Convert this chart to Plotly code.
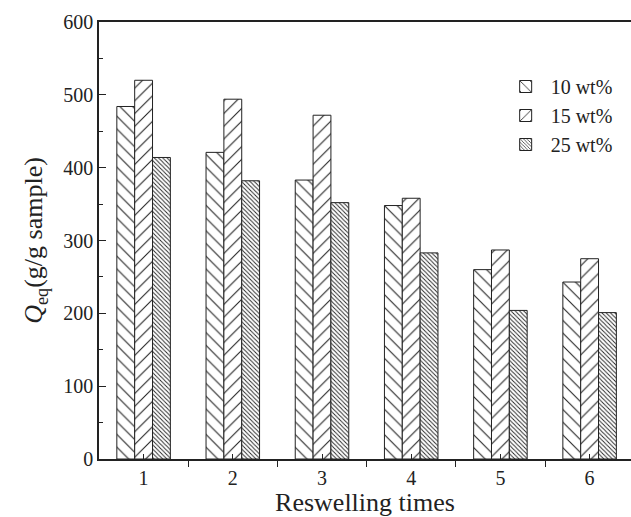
import plotly.graph_objects as go

categories = [1, 2, 3, 4, 5, 6]
series_names = ["10 wt%", "15 wt%", "25 wt%"]
q_10 = [484, 421, 383, 348, 260, 243]
q_15 = [520, 494, 472, 358, 287, 275]
q_25 = [414, 382, 352, 283, 204, 201]
y_ticks = [0, 100, 200, 300, 400, 500, 600]

series_values = [q_10, q_15, q_25]
pattern_styles = [
    dict(shape="\\", size=9, solidity=0.12),
    dict(shape="/", size=9, solidity=0.12),
    dict(shape="\\", size=3, solidity=0.3),
]

FONT = "Liberation Serif, Times New Roman, serif"
INK = "#222222"

fig = go.Figure()
for name, vals, pat in zip(series_names, series_values, pattern_styles):
    fig.add_trace(go.Bar(
        x=categories, y=vals, name=name,
        marker=dict(
            color="white",
            line=dict(color=INK, width=1),
            pattern=dict(fgcolor=INK, bgcolor="white", fillmode="replace", **pat),
        ),
    ))

fig.update_layout(
    width=631, height=517,
    margin=dict(l=99, r=0, t=22, b=58),
    paper_bgcolor="white", plot_bgcolor="white",
    barmode="group", bargap=0.4, bargroupgap=0,
    font=dict(family=FONT, color=INK, size=20),
    showlegend=True,
    legend=dict(
        x=0.755, y=0.897, xanchor="left", yanchor="top",
        bgcolor="rgba(0,0,0,0)", font=dict(family=FONT, size=20, color=INK),
        itemwidth=40, tracegroupgap=0,
    ),
)

fig.update_xaxes(
    range=[0.5, 6.464],
    tickmode="array", tickvals=categories, ticktext=[str(c) for c in categories],
    ticks="inside", ticklen=5, tickwidth=1.2, tickcolor=INK,
    minor=dict(ticks="outside", tick0=0.5, dtick=1, ticklen=6, tickwidth=1.2, tickcolor=INK),
    showline=True, linecolor=INK, linewidth=1.5, mirror=True,
    showgrid=False, zeroline=False,
    tickfont=dict(family=FONT, size=20, color=INK),
    title=dict(text="Reswelling times", font=dict(family=FONT, size=26, color=INK), standoff=2),
    automargin=False,
)

fig.update_yaxes(
    range=[0, 600],
    tickmode="array", tickvals=y_ticks,
    ticks="inside", ticklen=7, tickwidth=1.2, tickcolor=INK,
    minor=dict(ticks="inside", tick0=50, dtick=100, ticklen=4, tickwidth=1.2, tickcolor=INK),
    showline=True, linecolor=INK, linewidth=1.5, mirror=False,
    showgrid=False, zeroline=False,
    tickfont=dict(family=FONT, size=20, color=INK),
    title=dict(text="<i>Q</i><sub>eq</sub>(g/g sample)", font=dict(family=FONT, size=26, color=INK), standoff=13),
    automargin=False,
)

fig.write_html("out.html")
